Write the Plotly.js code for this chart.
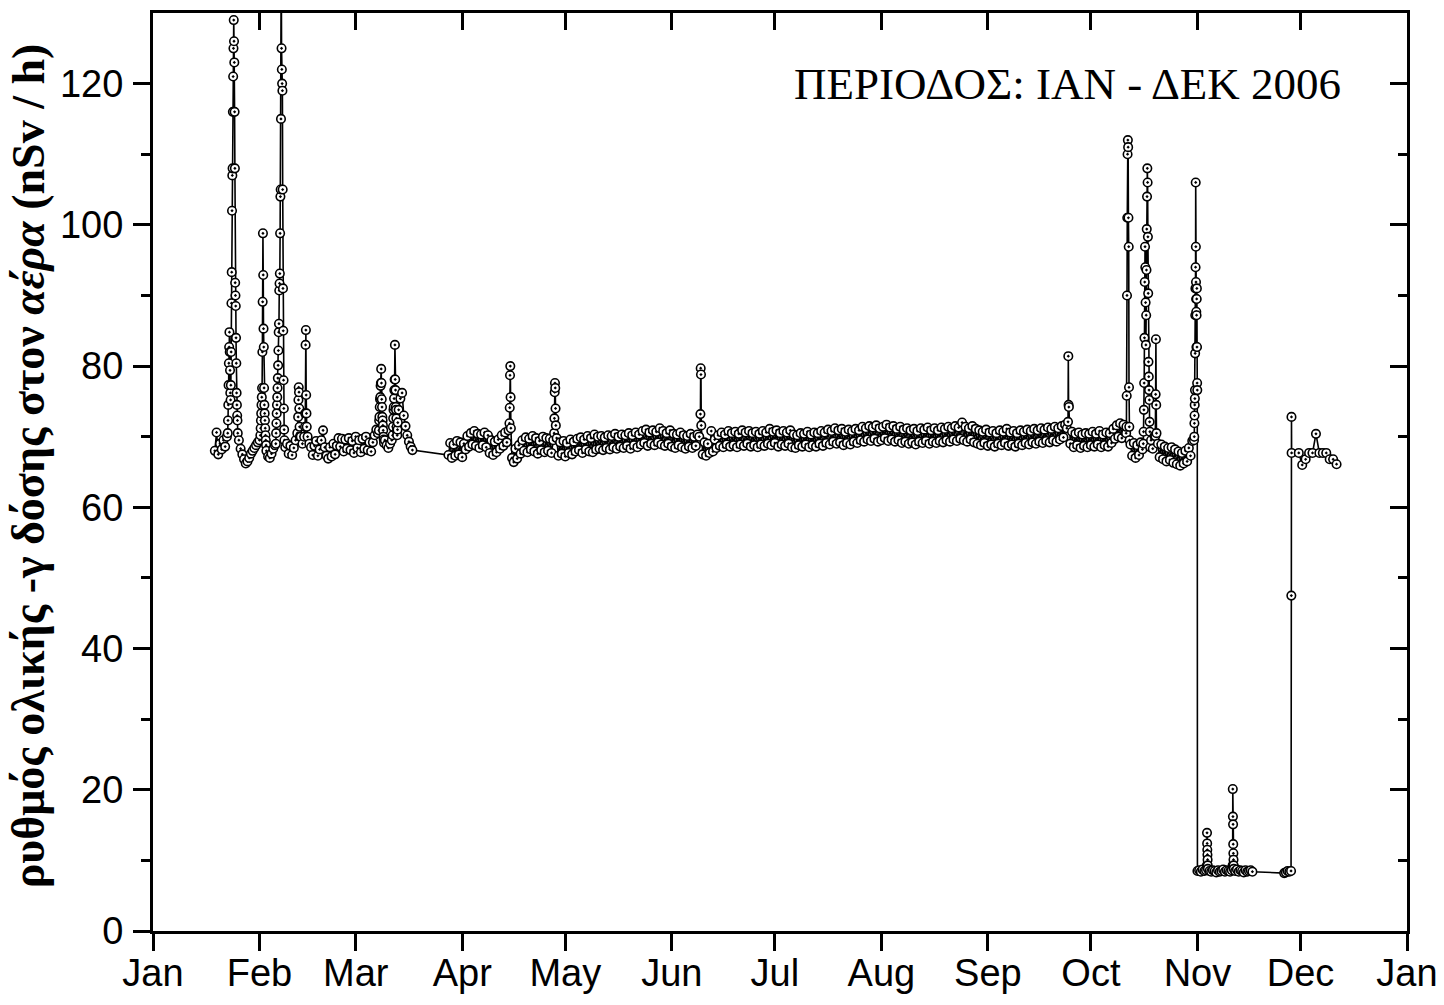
<!DOCTYPE html>
<html>
<head>
<meta charset="utf-8">
<script src="https://cdn.plot.ly/plotly-3.0.1.min.js"></script>
<style>html,body{margin:0;padding:0;background:#fff;}#chart{width:1444px;height:1005px;}</style>
</head>
<body>
<div id="chart"></div>
<script>
// ---- axis ticks ----
const monthTicks = ['2006-01-01','2006-02-01','2006-03-01','2006-04-01','2006-05-01','2006-06-01','2006-07-01','2006-08-01','2006-09-01','2006-10-01','2006-11-01','2006-12-01','2007-01-01'];
const monthLabels = ['Jan','Feb','Mar','Apr','May','Jun','Jul','Aug','Sep','Oct','Nov','Dec','Jan'];
const yTicks = [0,20,40,60,80,100,120];
const yMinorTicks = [10,30,50,70,90,110];
const yTitle = '<b>ρυθμός ολικής -γ δόσης στον <i>αέρα</i> (nSv / h)</b>';
const periodLabel = 'ΠΕΡΙΟΔΟΣ: ΙΑΝ - ΔΕΚ 2006';

// ---- data: each block = start time, sampling step (hours), values (null = replaced by finer block) ----
const janMarStart = '2006-01-19 00:00', janMarStep = 12;
const janMarValues = [
68.0,70.6, 67.5,69.0, 68.2,69.5, 68.6,70.0, null,null,
null,null, null,null, 69.5,68.3, 67.5,66.8, 66.2,66.5,
67.0,67.6, 68.0,68.4, 68.8,69.2, 69.5,null, null,null,
68.0,67.2, 67.0,67.6, 68.3,68.8, null,null, null,null,
null,68.5, 69.0,67.6, 68.7,67.4, 68.4,69.5, 70.5,null,
70.0,69.0, 70.0,null, 70.0,69.0, 68.5,67.4, 68.7,69.4,
67.3,68.2, 69.5,70.9, 68.5,67.3, 66.9,68.5, 67.2,69.0,
67.5,68.7, 69.8,68.6, 69.7,67.9, 69.6,68.3, 69.8,68.1,
69.4,67.7, 70.0,68.4, 69.5,67.8, 69.7,68.3, 70.0,68.1,
69.2,67.9, 69.2,70.2, 71.0,70.5, null,null, null,69.5,
68.8,68.4, 69.0,69.5, null,null, null,73.8, 75.4,76.2,
73.0,71.5, 70.2,69.3, 68.6,68.1
];
const jan23Start = '2006-01-22 18:00', jan23Step = 2;
const jan23Values = [70.5,72.3,74.5,77.3,80.4,82.7,84.8,82.0,79.4,76.2,75.2,77.3,82.0,88.9,93.3,102.0,107.0,108.0,116.0,121.0,125.0,129.0,126.0,123.0,116.0,108.0,91.8,90.0,88.5,84.0,80.4,76.2,74.5,73.0,72.3,70.5];
const feb1Start = '2006-02-01 06:00', feb1Step = 2;
const feb1Values = [70.2,71.2,72.3,73.3,74.5,75.6,76.9,82.0,89.1,98.8,92.9,85.3,82.7,76.9,74.5,73.3,72.3,71.2,70.2,69.5,68.8];
const feb6Start = '2006-02-05 18:00', feb6Step = 2;
const feb6Values = [69.0,70.5,71.9,73.3,74.5,75.6,76.9,78.3,80.1,82.2,84.8,86.0,90.7,91.7,93.1,98.8,104.0,105.0,115.0,138.0,125.0,122.0,120.0,119.0,105.0,91.0,85.0,78.0,74.0,71.0,69.5];
const feb12Start = '2006-02-12 06:00', feb12Step = 2;
const feb12Values = [72.8,75.2,77.0,76.3,74.0,71.4,70.0];
const feb14Start = '2006-02-14 06:00', feb14Step = 2;
const feb14Values = [71.4,73.3,83.0,85.1,75.9,73.3,71.4];
const mar7Start = '2006-03-07 18:00', mar7Step = 2;
const mar7Values = [70.9,72.3,72.8,74.2,75.3,75.6,77.2,77.6,79.6,77.6,75.3,74.2,72.8,72.3,71.6,70.9,70.0,69.6,69.1];
const mar11Start = '2006-03-11 18:00', mar11Step = 2;
const mar11Values = [70.2,71.4,72.6,73.8,74.2,75.4,76.6,78.1,83.0,78.1,76.6,74.2,73.8,72.6,71.4,70.8,70.2,71.0,72.0];

const aprOctStart = '2006-03-28 00:00', aprOctStep = 12;
const aprOctValues = [
67.4,69.1, 67.0,68.9, 67.3,69.4, 67.5,69.2, 67.1,69.0,
68.2,70.1, 68.6,70.5, 68.9,70.8, 68.7,70.4, 68.4,70.3,
68.8,70.6, 68.5,70.2, 67.7,69.5, 67.4,69.3, 67.8,69.6,
68.3,70.2, 68.7,70.6, 69.2,70.9, null,67.0, 66.4,68.3,
66.9,68.8, 67.6,69.5, 68.0,69.9, 67.8,69.7, 68.2,70.1,
67.9,69.8, 67.6,69.4, 68.1,70.0, 67.8,69.8, 68.0,69.7,
67.7,69.5, null,69.8, 67.3,69.2, 67.6,69.4, 67.2,69.1,
67.7,69.6, 67.5,69.3, 67.9,69.7, 68.1,69.9, 67.7,69.6,
68.2,70.1, 67.9,69.8, 67.8,70.3, 68.2,70.0, 68.3,70.1,
68.1,69.9, 68.4,70.2, 68.2,70.1, 68.5,70.4, 68.3,70.0,
68.6,70.3, 68.4,70.2, 68.7,70.5, 68.3,70.2, 68.8,70.6,
68.5,70.3, 68.9,70.8, 69.1,71.0, 68.7,70.6, 69.0,70.9,
68.8,70.7, 69.2,71.2, 68.9,70.8, 68.7,70.5, 69.0,70.9,
68.6,70.4, 68.4,70.3, 68.8,70.6, 68.5,70.2, 68.3,70.1,
68.6,70.4, 68.4,70.0, 68.7,70.3, 70.0,null, 67.5,69.2,
67.3,69.0, 67.7,70.8, 67.9,69.6, 68.4,70.2, 68.7,70.6,
68.5,70.3, 68.9,70.8, 68.6,70.5, 68.8,70.7, 68.5,70.4,
68.9,70.9, 68.7,70.6, 69.0,70.8, 68.6,70.5, 68.8,70.7,
68.5,70.4, 68.9,70.8, 68.7,70.6, 69.0,71.1, 68.8,70.7,
69.1,70.9, 68.6,70.5, 68.9,70.8, 68.7,70.6, 69.0,70.9,
68.5,70.3, 68.4,70.2, 68.8,70.5, 68.6,70.4, 68.9,70.7,
68.5,70.3, 68.8,70.6, 68.6,70.5, 69.0,70.8, 68.7,70.6,
69.1,71.0, 68.9,70.8, 69.3,71.2, 69.0,70.9, 69.2,71.1,
68.8,70.7, 69.1,71.0, 68.9,70.8, 69.3,71.1, 69.1,70.9,
69.5,71.4, 69.3,71.2, 69.6,71.5, 69.4,71.3, 69.7,71.6,
69.3,71.2, 69.5,71.4, 69.8,71.7, 69.4,71.3, 69.6,71.5,
69.3,71.1, 69.5,71.4, 69.1,71.0, 69.3,71.2, 69.0,70.9,
69.2,71.1, 68.9,70.8, 69.3,71.2, 69.1,71.0, 69.4,71.3,
69.0,70.9, 69.3,71.2, 69.1,70.9, 69.4,71.3, 69.2,71.1,
69.5,71.4, 69.3,71.2, 69.6,71.5, 69.4,71.3, 69.7,72.0,
69.5,71.4, 69.3,71.2, 69.6,71.5, 69.2,71.1, 69.0,70.9,
68.8,70.7, 69.1,71.0, 68.7,70.6, 68.9,70.8, 68.6,70.5,
69.0,70.9, 68.8,70.7, 69.1,71.1, 68.7,70.6, 68.9,70.8,
68.6,70.5, 69.0,70.9, 68.8,70.7, 69.1,71.0, 68.9,70.8,
69.2,71.1, 69.0,70.9, 69.3,71.2, 69.1,71.0, 69.4,71.3,
69.2,71.1, 69.5,71.4, 69.3,71.2, 69.6,71.5, 69.9,71.7,
71.2,null, 69.0,70.7, 68.5,70.4, 68.8,70.6, 68.4,70.3,
68.7,70.5, 68.5,70.4, 68.8,70.7, 68.6,70.4, 68.9,70.8,
68.5,70.3, 68.8,70.6, 68.6,70.5, 69.1,71.1, 69.7,71.6,
70.0,71.9, 69.8,71.7, 70.6,null, null,68.9, 67.3,69.1,
67.0,68.8, 67.4,69.2, 68.2,null, null,null, null,69.5,
68.3,70.1, null,69.0, 67.1,68.9, 66.8,68.6, 66.5,68.4,
66.7,68.5, 66.3,68.2, 66.1,67.9, 65.9,67.7, 66.2,68.0,
66.5,68.4, 67.3,69.4, 69.5
];
const apr14Start = '2006-04-14 18:00', apr14Step = 2;
const apr14Values = [71.9,74.1,78.7,80.0,75.6,71.2];
const apr27Start = '2006-04-27 18:00', apr27Step = 2;
const apr27Values = [70.5,72.6,76.3,77.6,76.9,74.0,71.6];
const jun9Start = '2006-06-09 08:00', jun9Step = 2;
const jun9Values = [73.2,79.7,78.8,71.6];
const sep24Start = '2006-09-24 08:00', sep24Step = 2;
const sep24Values = [72.1,81.4,74.5,74.2];
const oct11Start = '2006-10-11 06:00', oct11Step = 2;
const oct11Values = [70.5,71.4,75.8,90.0,101.0,110.0,112.0,111.0,101.0,96.9,77.0,71.4,69.5];
const oct16Start = '2006-10-16 06:00', oct16Step = 2;
const oct16Values = [69.0,70.7,73.8,77.6,84.0,91.9,96.9,94.0,89.0,83.0,87.2,93.6,99.4,104.0,108.0,106.0,98.3,90.3,80.6,78.5,76.6,75.2,72.1,70.7,68.5];
const oct19Start = '2006-10-19 18:00', oct19Step = 2;
const oct19Values = [70.1,76.0,83.8,74.5,70.5];
const oct31Start = '2006-10-31 02:00', oct31Step = 1;
const oct31Values = [70.0,71.9,73.0,74.5,75.4,76.6,81.8,87.2,91.0,94.0,106.0,96.9,91.9,89.5,87.7,82.7,87.2,89.5,91.0,82.7,77.6,76.6];

const novStart = '2006-11-01 00:00', novStep = 12;
const novValues = [
8.5,8.6, 8.4,8.7, 8.5,8.6, null,8.5, 8.4,8.6,
8.5,8.3, 8.6,8.4, 8.5,8.7, 8.4,8.6, 8.5,8.4,
8.6,null, 8.5,8.7, 8.4,8.6, 8.5,8.3, 8.6,8.4,
8.5,8.6, 8.4
];
const nov3Start = '2006-11-03 18:00', nov3Step = 1;
const nov3Values = [9.3,13.9,12.4,11.5,10.8,10.1,9.3,8.8];
const nov11Start = '2006-11-11 06:00', nov11Step = 1;
const nov11Values = [9.3,20.1,16.2,15.1,12.3,11.0,10.1,9.3,8.8];
const lateNovStart = '2006-11-26 06:00', lateNovStep = 12;
const lateNovValues = [8.2,8.3,8.5,8.4,8.5];
const nov28Start = '2006-11-28 08:00', nov28Step = 1;
const nov28Values = [47.5,72.8,67.7];
const decStart = '2006-11-30 12:00', decStep = 24;
const decValues = [67.7,66.0,66.8,67.7,67.7,70.4,67.7,67.7,67.7,66.8,66.8,66.1];

// ---- build the series ----
function toMs(s){
  const [d,t] = s.split(' ');
  const [Y,M,D] = d.split('-').map(Number);
  const [h,mi] = t.split(':').map(Number);
  return Date.UTC(Y, M-1, D, h, mi);
}
const blocks = [
  [janMarStart, janMarStep, janMarValues],
  [jan23Start, jan23Step, jan23Values],
  [feb1Start, feb1Step, feb1Values],
  [feb6Start, feb6Step, feb6Values],
  [feb12Start, feb12Step, feb12Values],
  [feb14Start, feb14Step, feb14Values],
  [mar7Start, mar7Step, mar7Values],
  [mar11Start, mar11Step, mar11Values],
  [aprOctStart, aprOctStep, aprOctValues],
  [apr14Start, apr14Step, apr14Values],
  [apr27Start, apr27Step, apr27Values],
  [jun9Start, jun9Step, jun9Values],
  [sep24Start, sep24Step, sep24Values],
  [oct11Start, oct11Step, oct11Values],
  [oct16Start, oct16Step, oct16Values],
  [oct19Start, oct19Step, oct19Values],
  [oct31Start, oct31Step, oct31Values],
  [novStart, novStep, novValues],
  [nov3Start, nov3Step, nov3Values],
  [nov11Start, nov11Step, nov11Values],
  [lateNovStart, lateNovStep, lateNovValues],
  [nov28Start, nov28Step, nov28Values],
  [decStart, decStep, decValues]
];
const pts = [];
blocks.forEach(([start, step, vals]) => {
  const t0 = toMs(start);
  vals.forEach((v, i) => { if (v !== null) pts.push([t0 + i*step*3600000, v]); });
});
pts.sort((a,b) => a[0]-b[0]);
const xs = pts.map(p => new Date(p[0]).toISOString().replace('T',' ').slice(0,19));
const ys = pts.map(p => p[1]);

const traces = [
  {
    x: xs, y: ys, type: 'scatter', mode: 'lines+markers',
    line: {color:'#000', width:1.6},
    marker: {symbol:'circle-dot', size:8.5, color:'#fff', line:{color:'#000', width:1.6}},
    hoverinfo: 'skip', showlegend: false
  },
  { x: [], y: [], xaxis:'x2', yaxis:'y2', type:'scatter', mode:'markers', hoverinfo:'skip', showlegend:false }
];

const axisCommon = {showgrid:false, zeroline:false, showline:true, linecolor:'#000', linewidth:3, tickcolor:'#000', tickwidth:3, ticklen:17, fixedrange:true};
const layout = {
  width:1444, height:1005,
  margin:{l:153, r:37, t:13, b:74, pad:0},
  paper_bgcolor:'#fff', plot_bgcolor:'#fff',
  showlegend:false, hovermode:false,
  font:{family:'"Liberation Sans", Arial, sans-serif', size:38, color:'#000'},
  xaxis: Object.assign({}, axisCommon, {
    type:'date', range:['2006-01-01','2007-01-01'],
    tickmode:'array', tickvals:monthTicks, ticktext:monthLabels,
    ticks:'outside', tickfont:{size:38}, ticklabelstandoff:-11
  }),
  yaxis: Object.assign({}, axisCommon, {
    range:[0,130], tickmode:'array', tickvals:yTicks,
    ticks:'outside', tickfont:{size:38}, ticklabelstandoff:2,
    minor:{tickmode:'array', tickvals:yMinorTicks, ticks:'outside', ticklen:9, tickwidth:3, tickcolor:'#000'}
  }),
  xaxis2: Object.assign({}, axisCommon, {
    type:'date', range:['2006-01-01','2007-01-01'], overlaying:'x', side:'top', anchor:'y',
    tickmode:'array', tickvals:monthTicks, ticks:'inside', showticklabels:false
  }),
  yaxis2: Object.assign({}, axisCommon, {
    range:[0,130], overlaying:'y', side:'right', anchor:'x',
    tickmode:'array', tickvals:yTicks, ticks:'inside', showticklabels:false,
    minor:{tickmode:'array', tickvals:yMinorTicks, ticks:'inside', ticklen:9, tickwidth:3, tickcolor:'#000'}
  }),
  annotations:[
    {
      xref:'paper', yref:'paper', x:0.949, y:0.923, xanchor:'right', yanchor:'middle',
      text:periodLabel, showarrow:false,
      font:{family:'"Liberation Serif", "Times New Roman", serif', size:45, color:'#000'}
    },
    {
      xref:'paper', yref:'paper', x:-0.0995, y:0.5065, xanchor:'center', yanchor:'middle',
      text:yTitle, showarrow:false, textangle:-90,
      font:{family:'"Liberation Serif", "Times New Roman", serif', size:46, color:'#000'}
    }
  ]
};
Plotly.newPlot('chart', traces, layout, {displayModeBar:false, staticPlot:true});
</script>
</body>
</html>
